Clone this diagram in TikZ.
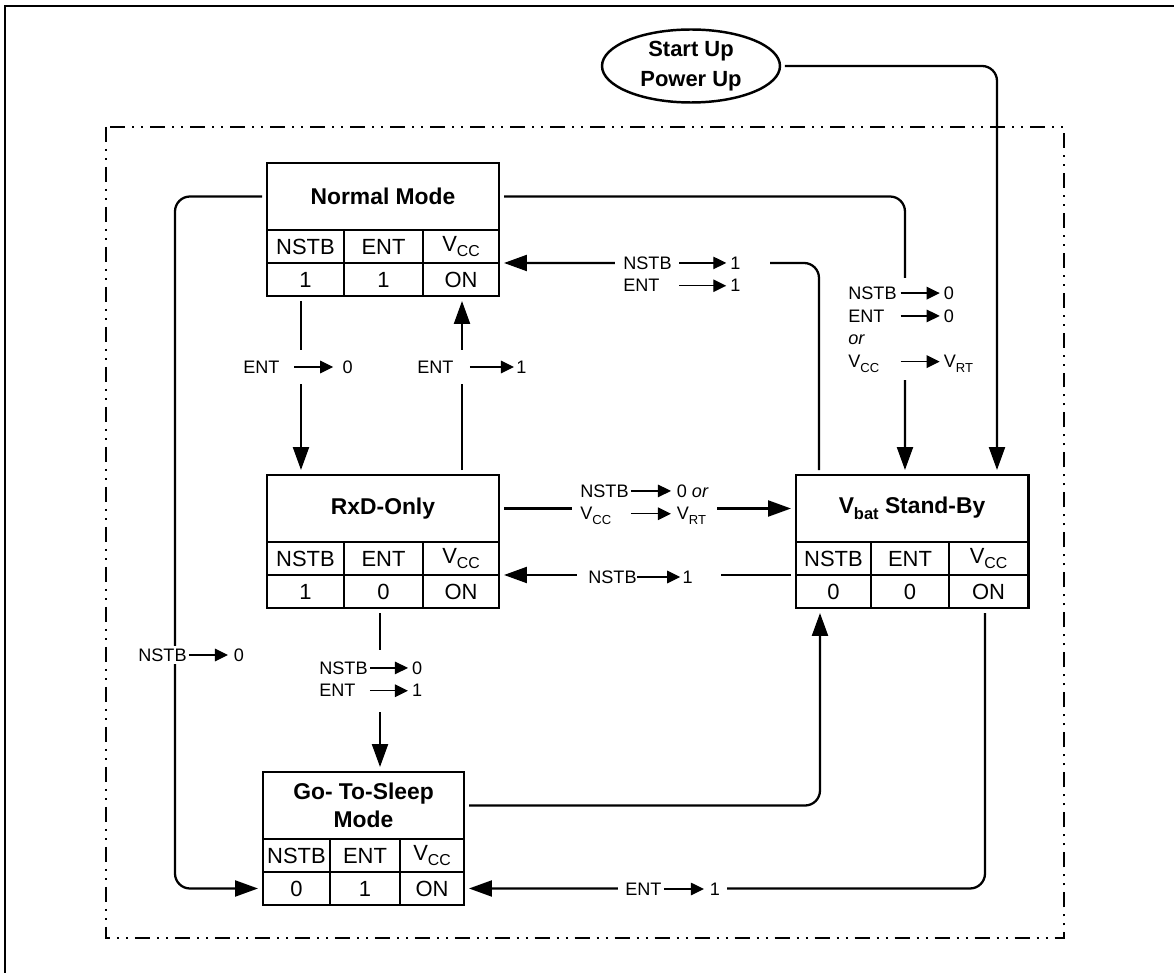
\documentclass[tikz,border=0pt]{standalone}
\usepackage{fontspec}
\usepackage{graphicx}
\setmainfont{Liberation Sans}
\usetikzlibrary{arrows.meta,shapes.geometric,fit}

\tikzset{
  modebox/.style={draw, line width=1.7pt, inner sep=0pt, outer sep=0.1cm},
  cellline/.style={line width=1.1pt},
  boxtitle/.style={inner sep=0pt, align=center, font=\bfseries\fontsize{13}{16}\selectfont},
  celltext/.style={inner sep=0pt, font=\fontsize{12.5}{15}\selectfont},
  startup/.style={ellipse, draw, line width=1.4pt, minimum width=3.56cm, minimum height=1.46cm,
    inner sep=0pt, outer sep=0.1cm, align=center, font=\bfseries\fontsize{12.5}{17}\selectfont},
  conn/.style={line width=1.3pt, rounded corners=0.3cm, -{Triangle[length=0.46cm,width=0.32cm]}},
  labarrow/.style={line width=0.7pt, -{Triangle[length=0.26cm,width=0.25cm]}},
  lbl/.style={fill=white, anchor=west, inner xsep=0.1cm, inner ysep=0.1cm,
    font=\fontsize{10.3}{13}\selectfont},
  dashframe/.style={line width=1.1pt, dash pattern=on 0.3cm off 0.14cm on 0.04cm off 0.14cm on 0.04cm off 0.14cm}
}

% short arrow inside the conditions
\newcommand{\tto}[1][0.78cm]{\tikz[baseline=-0.65ex]\draw[labarrow] (0,0) -- (#1,0);}
% lowered subscript
\newcommand{\lsub}[1]{\raisebox{-0.5ex}{\scalebox{0.72}{#1}}}

% state box: name, left, top, right, divider 1, divider 2, title, NSTB, ENT
\newcommand{\statebox}[9]{%
  \coordinate (#1-nw) at (#2,#3);
  \coordinate (#1-se) at (#4,{#3+133});
  \node[modebox, fit=(#1-nw)(#1-se)] (#1) {};
  \draw[cellline] (#2,{#3+67}) -- (#4,{#3+67}) (#2,{#3+100}) -- (#4,{#3+100})
    (#5,{#3+67}) -- (#5,{#3+133}) (#6,{#3+67}) -- (#6,{#3+133});
  \node[boxtitle] (#1-t) at ({(#2+#4)/2},{#3+33.5}) {#7};
  \node[celltext] (#1-nstb) at ({(#2+#5)/2},{#3+83.5}) {NSTB};
  \node[celltext] (#1-ent) at ({(#5+#6)/2},{#3+83.5}) {ENT};
  \node[celltext] (#1-vcc) at ({(#6+#4)/2},{#3+83.5}) {V\lsub{CC}};
  \node[celltext] (#1-nstbv) at ({(#2+#5)/2},{#3+116.5}) {#8};
  \node[celltext] (#1-entv) at ({(#5+#6)/2},{#3+116.5}) {#9};
  \node[celltext] (#1-vccv) at ({(#6+#4)/2},{#3+116.5}) {ON};
}

\begin{document}
\begin{tikzpicture}[x=0.02cm,y=-0.02cm]
\useasboundingbox (0,0) rectangle (1174,973);
\draw[line width=1.7pt] (5,973) -- (5,6) -- (1174,6);
\draw[dashframe] (106,127) rectangle (1064,938);

\node[startup] (start) at (691,66) {Start Up\\Power Up};

\statebox{normal}{267}{163}{499}{344}{423}{Normal Mode}{1}{1}
\statebox{rxd}{267}{475}{499}{344}{423}{RxD-Only}{1}{0}
\statebox{vbat}{796}{475}{1028}{871}{949}{V\lsub{bat} Stand-By}{0}{0}
\statebox{sleep}{263}{772}{464}{330}{400}{Go- To-Sleep\\Mode}{0}{1}

\coordinate (lcorner) at (175,888.5);

% transitions
\draw[conn] (start.east) -| ([xshift=-0.72cm]vbat.north east);
\draw[conn] (normal-t -| normal.east) -| ([xshift=2.28cm]vbat.north west);
\draw[conn] ([xshift=0.56cm]vbat.north west) |- ([yshift=-0.67cm]normal.east);
\draw[conn] ([xshift=0.78cm]normal.south west) -- ([xshift=0.78cm]rxd.north west);
\draw[conn] ([xshift=-0.84cm]rxd.north east) -- ([xshift=-0.84cm]normal.south east);
\draw[conn] (rxd-t -| rxd.east) -- (rxd-t -| vbat.west);
\draw[conn] ([yshift=-0.67cm]vbat.west) -- ([yshift=-0.67cm]rxd.east);
\draw[conn] (normal-t -| normal.west) -| (lcorner) -- ([yshift=-1cm]sleep.west);
\draw[conn] ([xshift=-0.06cm]rxd.south) -- ([xshift=-0.06cm]rxd.south |- sleep.north);
\draw[conn] (sleep-t -| sleep.east) -| ([xshift=0.58cm]vbat.south west);
\draw[conn] ([xshift=-0.96cm]vbat.south east) |- ([yshift=-1cm]sleep.east);

% conditions
\node[lbl] (la) at (843,329) {\begin{tabular}{@{}l@{\hspace{2pt}}l@{\hspace{2pt}}l@{}}
NSTB & \tto & 0\\
ENT & \tto & 0\\
\textit{or} & & \\
V\lsub{CC} & \tto & V\lsub{RT}
\end{tabular}};
\node[lbl, inner xsep=0.16cm] (lb) at (615,276) {\makebox[2.78cm][l]{\begin{tabular}{@{}l@{\hspace{4pt}}l@{\hspace{2pt}}l@{}}
NSTB & \tto[0.94cm] & 1\\
ENT & \tto[0.94cm] & 1
\end{tabular}}};
\node[lbl, inner ysep=0.22cm] (lc) at (238,367) {ENT\hspace{8pt}\tto\hspace{5pt}0};
\node[lbl, inner ysep=0.22cm] (ld) at (412,367) {ENT\hspace{9pt}\tto[0.88cm]\hspace{1pt}1};
\node[lbl, inner xsep=0.16cm] (le) at (572,504) {\begin{tabular}{@{}l@{\hspace{1pt}}l@{\hspace{3pt}}l@{}}
NSTB & \tto[0.8cm] & 0 \textit{or}\\
V\lsub{CC} & \tto[0.8cm] & V\lsub{RT}
\end{tabular}};
\node[lbl, inner xsep=0.22cm] (lf) at (577,577) {\makebox[2.44cm][l]{NSTB\tto[0.86cm]\hspace{1pt}1}};
\node[lbl, inner xsep=0.06cm, inner ysep=0.06cm] (lg) at (135,655) {NSTB\hspace{1pt}\tto\hspace{3pt}0};
\node[lbl, inner ysep=0.16cm] (lh) at (314,681) {\begin{tabular}{@{}l@{\hspace{1pt}}l@{\hspace{2pt}}l@{}}
NSTB & \tto[0.76cm] & 0\\
ENT & \tto[0.76cm] & 1
\end{tabular}};
\node[lbl, inner xsep=0.14cm] (li) at (618,889) {ENT\hspace{1pt}\tto[0.8cm]\hspace{3pt}1};
\end{tikzpicture}
\end{document}
